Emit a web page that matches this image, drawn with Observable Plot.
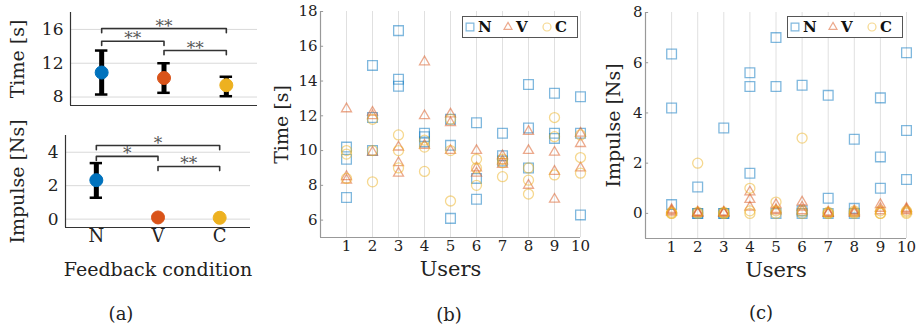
<!DOCTYPE html>
<html><head><meta charset="utf-8">
<script src="https://cdn.jsdelivr.net/npm/d3@7"></script>
<script src="https://cdn.jsdelivr.net/npm/@observablehq/plot@0.6"></script>
<style>
body{margin:0;background:#fff;}
#fig{position:relative;width:920px;height:333px;font-family:"DejaVu Serif",serif;color:#222;overflow:hidden;background:#fff}
#fig .p{position:absolute}
#fig .cap{position:absolute;font-size:18px;transform:translateX(-50%);line-height:1;white-space:nowrap}
</style></head><body><div id="fig"></div>
<script>
// ---------- data ----------
const conditions = ["N", "V", "C"];
const colors = ["#0072BD", "#D95319", "#EDB120"];
const users = [1, 2, 3, 4, 5, 6, 7, 8, 9, 10];

// panel (a) summaries
const timeMean = [10.9, 10.25, 9.4];
const timeLo = [8.3, 8.5, 8.1];
const timeHi = [13.5, 12.0, 10.4];
const impMean = [2.33, 0.1, 0.08];
const impLo = [1.28, 0.1, 0.08];
const impHi = [3.35, 0.1, 0.08];

// significance brackets (indices into conditions)
const timeBrFrom = [0, 0, 1], timeBrTo = [2, 1, 2];
const timeBrY = [16.1, 14.6, 13.5];
const timeBrLabel = ["**", "**", "**"];
const impBrFrom = [0, 0, 1], impBrTo = [2, 1, 2];
const impBrY = [4.4, 3.75, 3.15];
const impBrLabel = ["*", "*", "**"];

// tick values and domains
const timeTicksA = [8, 12, 16], timeDomainA = [7, 18];
const impTicksA = [0, 2, 4], impDomainA = [-0.5, 5];
const timeTicksB = [6, 8, 10, 12, 14, 16, 18], timeDomainB = [5, 18];
const impTicksC = [0, 2, 4, 6, 8], impDomainC = [-1, 8];
const userDomain = [0, 10];

// panel (b): time per user, three trials per condition
const timeN = [[10.2,9.5,7.3],[14.9,11.9,10.0],[16.9,14.1,13.7],[11.0,10.8,10.5],[11.8,10.3,6.1],[11.6,8.4,7.2],[11.0,9.7,9.4],[13.8,11.3,9.0],[13.3,11.0,10.7],[13.1,11.0,6.3]];
const timeV = [[12.4,8.5,8.3],[12.2,12.0,9.9],[10.2,9.3,8.7],[15.1,12.0,10.3],[12.1,11.6,10.0],[10.0,9.0,8.7],[9.7,9.4,9.2],[11.1,10.0,8.0],[9.9,8.8,7.2],[11.0,10.4,9.0]];
const timeC = [[10.0,9.8,8.4],[11.8,10.0,8.2],[10.9,10.0,9.0],[10.6,10.2,8.8],[11.8,10.0,7.1],[9.5,9.0,8.0],[9.5,9.3,8.5],[9.0,8.3,7.5],[11.9,10.8,8.6],[10.9,9.6,8.7]];

// panel (c): impulse per user
const impN = [[6.35,4.2,0.35],[1.05,0,0],[3.4,0,0],[5.6,5.05,1.6],[7.0,5.05,0],[5.1,0.1,0],[4.7,0.6,0],[2.95,0.2,0],[4.6,2.25,1.0],[6.4,3.3,1.35]];
const impV = [[0.15,0.1,0.05],[0.05,0.02,0],[0.05,0.02,0],[0.85,0.55,0.25],[0.35,0.15,0.1],[0.45,0.25,0.1],[0.05,0,0],[0.1,0.05,0],[0.35,0.2,0.1],[0.2,0.15,0.1]];
const impC = [[0.05,0,0],[2.0,0.05,0],[0.05,0,0],[1.0,0.1,0],[0.45,0.1,0],[3.0,0.1,0],[0.05,0,0],[0.1,0.05,0],[0.1,0,0],[0.1,0.05,0]];

// ---------- helpers ----------
const fig = document.getElementById("fig");
const FONT = "DejaVu Serif";
// marker shapes scaled so square, triangle and circle look equally large
function scaled(sym, k) { return {draw(ctx, size) { sym.draw(ctx, size * k); }}; }
const symbols = [scaled(d3.symbolSquare, 1.2), scaled(d3.symbolTriangle, 0.55), scaled(d3.symbolCircle, 1)];

function place(el, left, top) { el.classList.add("p"); el.style.left = left + "px"; el.style.top = top + "px"; fig.appendChild(el); }
function caption(txt, cx, top) { const d = document.createElement("div"); d.className = "cap"; d.textContent = txt; d.style.left = cx + "px"; d.style.top = top + "px"; fig.appendChild(d); }

function summary(mean, lo, hi) { return conditions.map((c, i) => ({x: i + 1, c, mean: mean[i], lo: lo[i], hi: hi[i]})); }
function bracketPts(from, to, ys, drop) {
  return from.flatMap((f, i) => { const a = f + 1, b = to[i] + 1, y = ys[i];
    return [{k: i, x: a, y: y - drop}, {k: i, x: a, y}, {k: i, x: b, y}, {k: i, x: b, y: y - drop}]; });
}
function bracketMid(from, to, ys, labels) { return from.map((f, i) => ({x: (f + to[i]) / 2 + 1, y: ys[i], t: labels[i]})); }
function caps(s, half) { return s.flatMap(d => d.hi > d.lo ? [{x1: d.x - half, x2: d.x + half, y: d.lo}, {x1: d.x - half, x2: d.x + half, y: d.hi}] : []); }
function pts(N, V, C) {
  const out = [];
  users.forEach((u, i) => { [N, V, C].forEach((arr, j) => arr[i].forEach(v => out.push({u, v, c: conditions[j]}))); });
  return out;
}

function summaryPanel({width, height, ml, mr, mt, mb, domain, ticks, mean, lo, hi, from, to, ys, labels, title, xTicks, xTitle}) {
  const s = summary(mean, lo, hi);
  const drop = (domain[1] - domain[0]) * 0.045;
  const marks = [
    Plot.gridY(ticks, {stroke: "#d9d9d9", strokeOpacity: 1}),
    Plot.ruleY([domain[0]], {stroke: "#333", strokeWidth: 1.2}),
    Plot.ruleX([0.5], {stroke: "#333", strokeWidth: 1.2}),
    Plot.axisY({ticks, tickSize: 0, tickPadding: 7, fontSize: 17, label: null, tickFormat: d => String(d)}),
    Plot.text([title], {frameAnchor: "left", textAnchor: "middle", rotate: -90, dx: 17 - ml, fontSize: 19, fill: "#222"}),
    Plot.ruleX(s.filter(d => d.hi > d.lo), {x: "x", y1: "lo", y2: "hi", stroke: "#000", strokeWidth: 5}),
    Plot.ruleY(caps(s, 0.1), {x1: "x1", x2: "x2", y: "y", stroke: "#000", strokeWidth: 2.5}),
    Plot.dot(s, {x: "x", y: "mean", r: 6.5, fill: "c", stroke: "c", strokeWidth: 1}),
    Plot.line(bracketPts(from, to, ys, drop), {x: "x", y: "y", z: "k", stroke: "#333", strokeWidth: 1.6}),
    Plot.text(bracketMid(from, to, ys, labels), {x: "x", y: "y", text: "t", lineAnchor: "bottom", dy: 3, fontSize: 17, fill: "#555"})
  ];
  if (xTicks) {
    marks.push(Plot.axisX({ticks: [1, 2, 3], tickFormat: i => conditions[i - 1], tickSize: 0, tickPadding: 2, fontSize: 18, label: null}));
    marks.push(Plot.text([xTitle], {frameAnchor: "bottom", dy: 48, fontSize: 19, fill: "#222"}));
  } else {
    marks.push(Plot.axisX({ticks: [], label: null, tickSize: 0}));
  }
  return Plot.plot({
    width, height, marginLeft: ml, marginRight: mr, marginTop: mt, marginBottom: mb,
    style: {fontFamily: FONT, background: "transparent", color: "#222", overflow: "visible"},
    x: {domain: [0.5, 3.5]},
    y: {domain},
    color: {domain: conditions, range: colors},
    marks
  });
}

function scatterPanel({width, height, ml, mr, mt, mb, domain, ticks, data, title, titleX, fs}) {
  return Plot.plot({
    width, height, marginLeft: ml, marginRight: mr, marginTop: mt, marginBottom: mb,
    style: {fontFamily: FONT, background: "transparent", color: "#222", overflow: "visible"},
    x: {domain: userDomain},
    y: {domain},
    symbol: {domain: conditions, range: symbols},
    color: {domain: conditions, range: colors},
    marks: [
      Plot.gridX(users, {stroke: "#e0e0e0", strokeOpacity: 1}),
      Plot.ruleX([userDomain[0]], {stroke: "#999", strokeWidth: 1.2}),
      Plot.ruleY([domain[0]], {stroke: "#999", strokeWidth: 1.2}),
      Plot.axisX({ticks: users, tickSize: 0, tickPadding: 3, fontSize: fs, label: null}),
      Plot.axisY({ticks, tickSize: 0, tickPadding: 3, fontSize: fs, label: null, tickFormat: d => String(d)}),
      Plot.ruleY(ticks, {y: d => d, x1: userDomain[0], x2: userDomain[0] + 0.12, stroke: "#999"}),
      Plot.text(["Users"], {frameAnchor: "bottom", dy: 38, fontSize: 21, fill: "#222"}),
      Plot.text([title], {frameAnchor: "left", textAnchor: "middle", rotate: -90, dx: titleX, fontSize: 19, fill: "#222"}),
      Plot.dot(data, {x: "u", y: "v", symbol: "c", stroke: "c", r: 5, strokeOpacity: 0.5, strokeWidth: 1.3, fill: "none"})
    ]
  });
}

function legend(left, top) {
  const w = 116, h = 22;
  const svg = d3.create("svg").attr("width", w).attr("height", h).style("overflow", "visible");
  svg.append("rect").attr("x", 0.5).attr("y", 0.5).attr("width", w - 1).attr("height", h - 1).attr("fill", "#fff").attr("stroke", "#555");
  const sx = [8, 46, 85];
  conditions.forEach((c, i) => {
    svg.append("path").attr("d", d3.symbol(symbols[i], 50)()).attr("transform", `translate(${sx[i]},${h / 2})`)
      .attr("fill", "none").attr("stroke", colors[i]).attr("stroke-opacity", 0.5).attr("stroke-width", 1.2);
    svg.append("text").attr("x", sx[i] + 8).attr("y", h / 2).attr("dy", "0.35em").attr("font-family", FONT)
      .attr("font-weight", "bold").attr("font-size", 15).attr("fill", "#111").text(c);
  });
  place(svg.node(), left, top);
}

// ---------- panels ----------
place(summaryPanel({width: 270, height: 120, ml: 70, mr: 13, mt: 12, mb: 15, domain: timeDomainA, ticks: timeTicksA,
  mean: timeMean, lo: timeLo, hi: timeHi, from: timeBrFrom, to: timeBrTo, ys: timeBrY, labels: timeBrLabel, title: "Time [s]", xTicks: false}), 0, 0);
place(summaryPanel({width: 270, height: 175, ml: 65, mr: 20, mt: 15, mb: 68, domain: impDomainA, ticks: impTicksA,
  mean: impMean, lo: impLo, hi: impHi, from: impBrFrom, to: impBrTo, ys: impBrY, labels: impBrLabel, title: "Impulse [Ns]", xTicks: true, xTitle: "Feedback condition"}), 0, 120);

place(scatterPanel({width: 330, height: 290, ml: 50, mr: 20, mt: 11, mb: 53, domain: timeDomainB, ticks: timeTicksB,
  data: pts(timeN, timeV, timeC), title: "Time [s]", titleX: -39, fs: 15}), 270, 0);
place(scatterPanel({width: 320, height: 290, ml: 45, mr: 14, mt: 12, mb: 52, domain: impDomainC, ticks: impTicksC,
  data: pts(impN, impV, impC), title: "Impulse [Ns]", titleX: -32, fs: 15}), 600, 0);

legend(462, 16);
legend(787, 16);

caption("(a)", 121, 305);
caption("(b)", 449, 306);
caption("(c)", 761, 304);
</script></body></html>
